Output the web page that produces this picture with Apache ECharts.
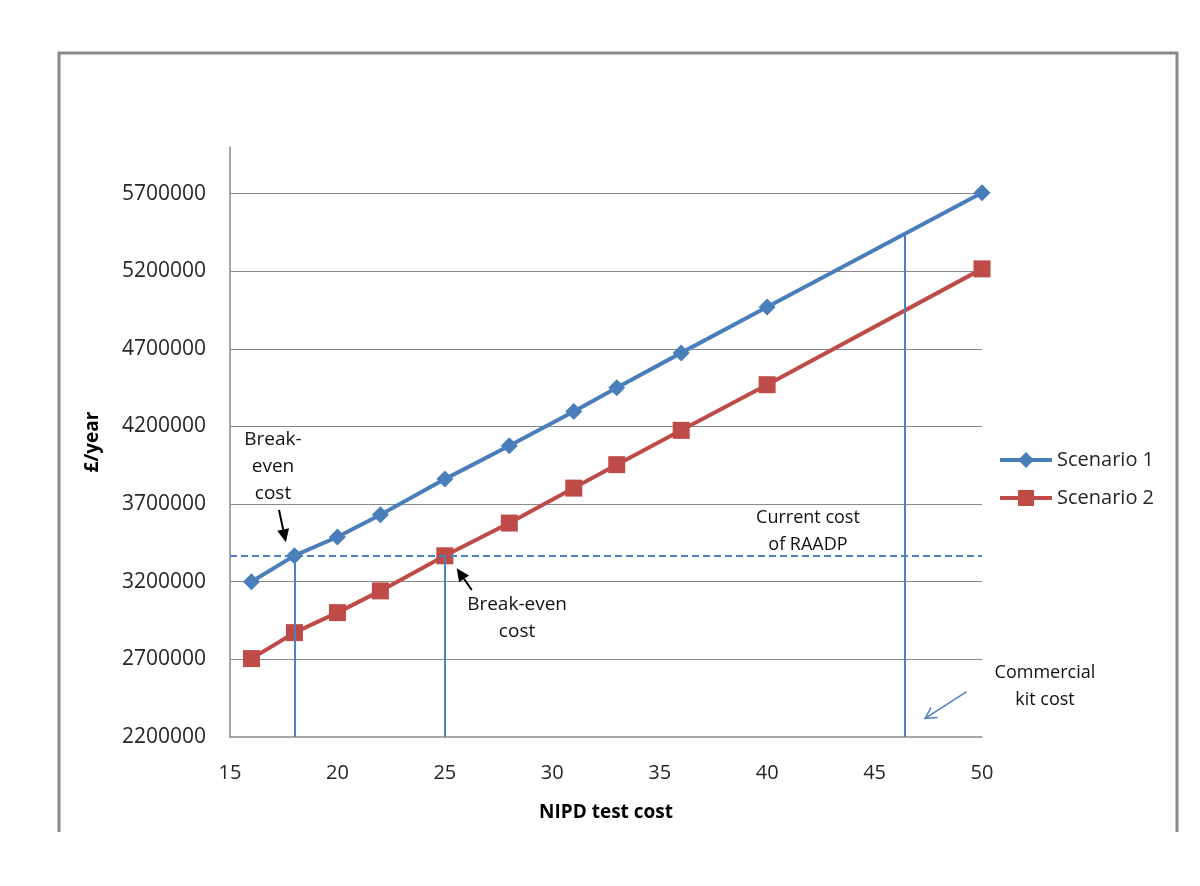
<!DOCTYPE html>
<html>
<head>
<meta charset="utf-8">
<script src="https://cdn.jsdelivr.net/npm/echarts@6/dist/echarts.min.js"></script>
<style>
  html, body { margin: 0; padding: 0; background: #fff; }
  #main { width: 1200px; height: 886px; }
</style>
</head>
<body>
<div id="main"></div>
<script>
// test cost (x) for both scenarios
const testCost = [16, 18, 20, 22, 25, 28, 31, 33, 36, 40, 50];
// £/year
const scenario1 = [3200000, 3368000, 3488000, 3631000, 3861000, 4076000, 4297000, 4450000, 4674000, 4970000, 5705000];
const scenario2 = [2705000, 2872000, 3001000, 3141000, 3367000, 3578000, 3803000, 3954000, 4175000, 4469000, 5215000];
const seriesNames = ['Scenario 1', 'Scenario 2'];

const raadpCost = 3370000;        // current cost of RAADP (dashed line)
const breakEven = [18, 25];       // break-even test costs
const kitCost = 46.4;             // commercial kit cost
const kitCostTop = 5440000;       // where the kit cost line meets scenario 1

// y ticks: 2200000 .. 5700000 step 500000
const yMin = 2200000, yMax = 6000000, yStep = 500000;
const xMin = 15, xMax = 50, xStep = 5;

const FONT = '"Open Sans", "Noto Sans", sans-serif';
const GRAY = '#898989';
const BLUE = '#4A7EBB';
const RED = '#BE4B48';
const REF_BLUE = '#4F81BD';

// annotation texts, anchored in data coordinates
const notes = [
  { text: 'Break-\neven\ncost', at: [17.0, 3940000], size: 19 },
  { text: 'Break-even\ncost', at: [28.36, 2967000], size: 19 },
  { text: 'Current cost\nof RAADP', at: [41.9, 3524000], size: 18 },
  { text: 'Commercial\nkit cost', at: [52.93, 2528000], size: 18 }
];
// arrows [from, to]
const arrows = [
  { from: [17.28, 3663000], to: [17.6, 3455000], color: '#000', open: false },
  { from: [26.25, 3147000], to: [25.55, 3287000], color: '#000', open: false },
  { from: [49.29, 2492000], to: [47.35, 2320000], color: REF_BLUE, open: true }
];

const chart = echarts.init(document.getElementById('main'));

const toPairs = (xs, ys) => xs.map((x, i) => [x, ys[i]]);

const option = {
  backgroundColor: '#fff',
  animation: false,
  textStyle: { fontFamily: FONT },
  grid: { left: 230, right: 218, top: 147, bottom: 149 },
  legend: {
    orient: 'vertical',
    left: 993,
    top: 442,
    itemWidth: 52,
    itemHeight: 20,
    itemGap: 12,
    data: seriesNames,
    lineStyle: { width: 4 },
    textStyle: { fontFamily: FONT, fontSize: 20, color: '#262626', lineHeight: 26 }
  },
  xAxis: {
    type: 'value',
    min: xMin, max: xMax, interval: xStep,
    name: 'NIPD test cost',
    nameLocation: 'middle',
    nameGap: 66,
    nameTextStyle: { fontFamily: FONT, fontSize: 19, fontWeight: 'bold', color: '#000' },
    axisLine: { show: true, lineStyle: { color: GRAY, width: 1.5 } },
    axisTick: { show: false },
    splitLine: { show: false },
    axisLabel: { fontFamily: FONT, fontSize: 20, color: '#262626', margin: 26 }
  },
  yAxis: {
    type: 'value',
    min: yMin, max: yMax, interval: yStep,
    name: '£/year',
    nameLocation: 'middle',
    nameGap: 128,
    nameTextStyle: { fontFamily: FONT, fontSize: 19, fontWeight: 'bold', color: '#000' },
    axisLine: { show: true, lineStyle: { color: GRAY, width: 1.5 } },
    axisTick: { show: false },
    splitLine: { show: true, showMinLine: false, showMaxLine: false, lineStyle: { color: GRAY, width: 1 } },
    axisLabel: {
      fontFamily: FONT, fontSize: 21, color: '#262626', margin: 24, showMaxLabel: false,
      formatter: v => String(v)
    }
  },
  series: [
    {
      name: seriesNames[0],
      type: 'line',
      data: toPairs(testCost, scenario1),
      symbol: 'diamond',
      symbolSize: 17,
      color: BLUE,
      lineStyle: { width: 4, color: BLUE },
      itemStyle: { color: BLUE },
      z: 4,
      markLine: {
        silent: true,
        symbol: 'none',
        label: { show: false },
        lineStyle: { color: REF_BLUE, width: 2, type: 'solid' },
        data: [
          [{ coord: [xMin, raadpCost], lineStyle: { type: [7, 4], width: 2 } }, { coord: [xMax, raadpCost] }],
          [{ coord: [breakEven[0], yMin] }, { coord: [breakEven[0], raadpCost] }],
          [{ coord: [breakEven[1], yMin] }, { coord: [breakEven[1], raadpCost] }],
          [{ coord: [kitCost, yMin] }, { coord: [kitCost, kitCostTop] }]
        ]
      }
    },
    {
      name: seriesNames[1],
      type: 'line',
      data: toPairs(testCost, scenario2),
      symbol: 'rect',
      symbolSize: 17,
      color: RED,
      lineStyle: { width: 4, color: RED },
      itemStyle: { color: RED },
      z: 3
    }
  ]
};

chart.setOption(option);

// annotations placed through the axes
const px = (p) => chart.convertToPixel({ gridIndex: 0 }, p);
const graphics = [];

// outer chart-area border (no bottom edge, as in the picture)
graphics.push({
  type: 'polyline',
  shape: { points: [[59, 832], [59, 53], [1177, 53], [1177, 832]] },
  style: { stroke: GRAY, lineWidth: 3, fill: null },
  silent: true
});

notes.forEach(n => {
  const [x, y] = px(n.at);
  graphics.push({
    type: 'text',
    x: x, y: y,
    style: {
      text: n.text,
      font: n.size + 'px ' + FONT,
      fill: '#111',
      align: 'center',
      verticalAlign: 'middle',
      lineHeight: 27
    },
    silent: true
  });
});

arrows.forEach(a => {
  const [x1, y1] = px(a.from);
  const [x2, y2] = px(a.to);
  const ang = Math.atan2(y2 - y1, x2 - x1);
  const L = a.open ? 11 : 13, W = 6;
  const bx = x2 - L * Math.cos(ang), by = y2 - L * Math.sin(ang);
  const lx = bx + W * Math.sin(ang), ly = by - W * Math.cos(ang);
  const rx = bx - W * Math.sin(ang), ry = by + W * Math.cos(ang);
  graphics.push({
    type: 'line',
    shape: { x1: x1, y1: y1, x2: a.open ? x2 : bx, y2: a.open ? y2 : by },
    style: { stroke: a.color, lineWidth: a.open ? 1.5 : 2 },
    silent: true
  });
  if (a.open) {
    graphics.push({
      type: 'polyline',
      shape: { points: [[lx, ly], [x2, y2], [rx, ry]] },
      style: { stroke: a.color, lineWidth: 1.5, fill: null },
      silent: true
    });
  } else {
    graphics.push({
      type: 'polygon',
      shape: { points: [[lx, ly], [x2, y2], [rx, ry]] },
      style: { fill: a.color },
      silent: true
    });
  }
});

chart.setOption({ graphic: graphics });
</script>
</body>
</html>
